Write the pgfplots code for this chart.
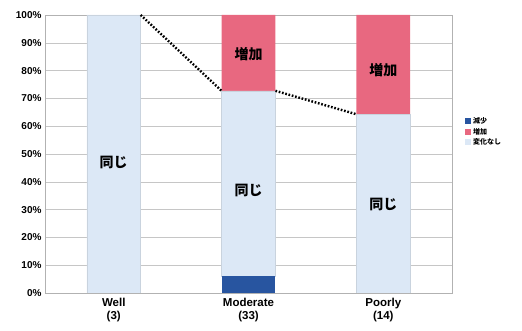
\documentclass[border=0pt]{standalone}
\usepackage{fontspec}
\setmainfont{Liberation Sans}
\newfontfamily\jp{Noto Sans CJK JP}
\usepackage{pgfplots}
\pgfplotsset{compat=1.18}
\definecolor{dec}{RGB}{40,85,160}
\definecolor{inc}{RGB}{232,104,128}
\definecolor{same}{RGB}{220,232,246}
\begin{document}
\begin{tikzpicture}
\begin{axis}[name=main, scale only axis, width=407pt, height=278pt,
 xmin=-0.51, xmax=2.51, ymin=0, ymax=100,
 ybar stacked, bar width=0.4,
 xtick={0,1,2}, xticklabels={Well\\(3), Moderate\\(33), Poorly\\(14)},
 xticklabel style={align=center, font=\bfseries\fontsize{11.5}{12.5}\selectfont, yshift=-2pt},
 ytick={0,10,...,100}, yticklabel={\pgfmathprintnumber{\tick}\%},
 yticklabel style={font=\bfseries\fontsize{10}{11}\selectfont},
 /pgf/number format/assume math mode=true,
 ymajorgrids, grid style={gray!45},
 axis line style={gray!60}, tick style={draw=none},
 legend style={at={([xshift=10pt]1,0.58)}, anchor=west, draw=none, fill=none,
   font=\jp\bfseries\fontsize{7}{8}\selectfont, row sep=-1pt},
 legend image code/.code={\fill[#1] (0pt,-3pt) rectangle (6pt,3pt);},
 legend cell align=left,
]
\addplot[fill=dec, draw=none, forget plot] coordinates {(0,0) (1,6.06) (2,0)};
\addplot[fill=same, draw=same!80!gray, forget plot] coordinates {(0,100) (1,66.67) (2,64.29)};
\addplot[fill=inc, draw=none, forget plot] coordinates {(0,0) (1,27.27) (2,35.71)};
\addlegendimage{fill=dec, draw=none}
\addlegendentry{減少}
\addlegendimage{fill=inc, draw=none}
\addlegendentry{増加}
\addlegendimage{fill=same, draw=none}
\addlegendentry{変化なし}
\end{axis}
\begin{axis}[scale only axis, width=407pt, height=278pt,
 xmin=-0.51, xmax=2.51, ymin=0, ymax=100, hide axis]
\addplot[black, line width=2.4pt, dash pattern=on 1.7pt off 1.7pt, line cap=butt] coordinates {(0.2,100) (0.8,72.73)};
\addplot[black, line width=2.4pt, dash pattern=on 1.7pt off 1.7pt, line cap=butt] coordinates {(1.2,72.73) (1.8,64.29)};
\node[font=\jp\bfseries\fontsize{14}{16}\selectfont] at (axis cs:0,47) {同じ};
\node[font=\jp\bfseries\fontsize{14}{16}\selectfont] at (axis cs:1,37) {同じ};
\node[font=\jp\bfseries\fontsize{14}{16}\selectfont] at (axis cs:1,86) {増加};
\node[font=\jp\bfseries\fontsize{14}{16}\selectfont] at (axis cs:2,32) {同じ};
\node[font=\jp\bfseries\fontsize{14}{16}\selectfont] at (axis cs:2,80) {増加};
\end{axis}
\pgfresetboundingbox
\path[use as bounding box] ([shift={(-45pt,-38pt)}]main.south west) rectangle ([shift={(70pt,15pt)}]main.north east);
\end{tikzpicture}
\end{document}
